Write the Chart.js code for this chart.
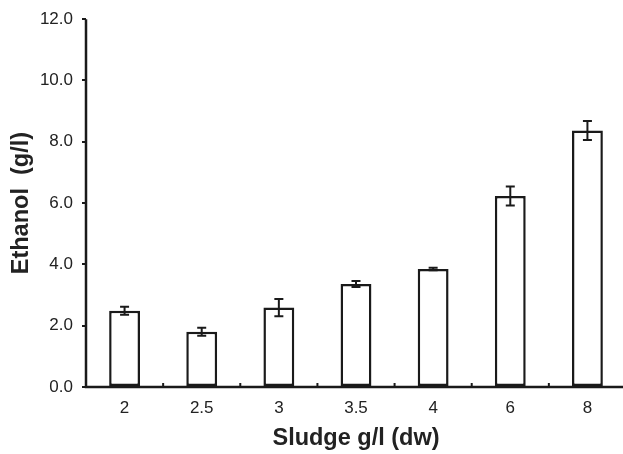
<!DOCTYPE html>
<html>
<head>
<meta charset="utf-8">
<script src="https://cdn.jsdelivr.net/npm/chart.js@4/dist/chart.umd.min.js"></script>
<style>
html,body{margin:0;padding:0;background:#fff;overflow:hidden;}
#wrap{width:626px;height:454px;position:relative;}
</style>
</head>
<body>
<div id="wrap"><canvas id="c" width="626" height="454"></canvas></div>
<script>
const categories = ["2", "2.5", "3", "3.5", "4", "6", "8"];
const ethanol = [2.49, 1.80, 2.59, 3.36, 3.85, 6.23, 8.37];
const errors = [0.13, 0.13, 0.28, 0.10, 0.04, 0.31, 0.31];
const yTicks = [0, 2, 4, 6, 8, 10, 12];
const xTitle = "Sludge g/l (dw)";
const yTitle = "Ethanol  (g/l)";

const ink = "#1a1a1a";
const fam = "'Liberation Sans', Arial, sans-serif";

const errorBarPlugin = {
  id: "errorBars",
  afterDatasetsDraw(chart) {
    const ctx = chart.ctx;
    const meta = chart.getDatasetMeta(0);
    const y = chart.scales.y;
    ctx.save();
    ctx.strokeStyle = ink;
    ctx.lineWidth = 2;
    meta.data.forEach((bar, i) => {
      const v = ethanol[i], e = errors[i];
      const yt = y.getPixelForValue(v + e);
      const yb = y.getPixelForValue(v - e);
      const x = bar.x;
      ctx.beginPath();
      ctx.moveTo(x, yt); ctx.lineTo(x, yb);
      ctx.moveTo(x - 4.5, yt); ctx.lineTo(x + 4.5, yt);
      ctx.moveTo(x - 4.5, yb); ctx.lineTo(x + 4.5, yb);
      ctx.stroke();
    });
    const xs = chart.scales.x;
    const bottom = chart.chartArea.bottom;
    ctx.lineWidth = 2;
    for (let i = 0; i < categories.length - 1; i++) {
      const xp = (xs.getPixelForValue(i) + xs.getPixelForValue(i + 1)) / 2;
      ctx.beginPath();
      ctx.moveTo(xp, bottom);
      ctx.lineTo(xp, bottom - 4);
      ctx.stroke();
    }
    ctx.lineWidth = 2.5;
    ctx.beginPath();
    ctx.moveTo(chart.chartArea.left, y.getPixelForValue(12));
    ctx.lineTo(chart.chartArea.left, bottom);
    ctx.lineTo(chart.chartArea.right, bottom);
    ctx.stroke();
    ctx.restore();
  }
};

new Chart(document.getElementById("c"), {
  type: "bar",
  data: {
    labels: categories,
    datasets: [{
      data: ethanol,
      backgroundColor: "#ffffff",
      borderColor: ink,
      borderWidth: 2.5,
      borderSkipped: false,
      barPercentage: 0.4,
      categoryPercentage: 1.0
    }]
  },
  options: {
    responsive: false,
    animation: false,
    events: [],
    layout: { padding: { top: 18, right: 0, left: 0, bottom: 0 } },
    plugins: { legend: { display: false }, tooltip: { enabled: false } },
    scales: {
      x: {
        offset: true,
        grid: { display: false, drawTicks: false },
        border: { display: false },
        ticks: { color: "#222", font: { family: fam, size: 17 }, padding: 11, maxRotation: 0 },
        title: { display: true, text: xTitle, color: "#222", font: { family: fam, size: 23.5, weight: "bold" }, padding: { top: 3, bottom: 1 } },
        afterFit(s) { s.height = 67; }
      },
      y: {
        min: 0, max: 12,
        afterBuildTicks(s) { s.ticks = yTicks.map(v => ({ value: v })); },
        grid: { drawOnChartArea: false, tickLength: 4, color: ink, lineWidth: 2 },
        border: { display: false },
        ticks: { color: "#222", font: { family: fam, size: 17 }, padding: 9, callback: v => Number(v).toFixed(1) },
        title: { display: true, text: yTitle, color: "#222", font: { family: fam, size: 23.5, weight: "bold" }, padding: { top: 7, bottom: 0 } },
        afterFit(s) { s.width = 86; }
      }
    }
  },
  plugins: [errorBarPlugin]
});
</script>
</body>
</html>
